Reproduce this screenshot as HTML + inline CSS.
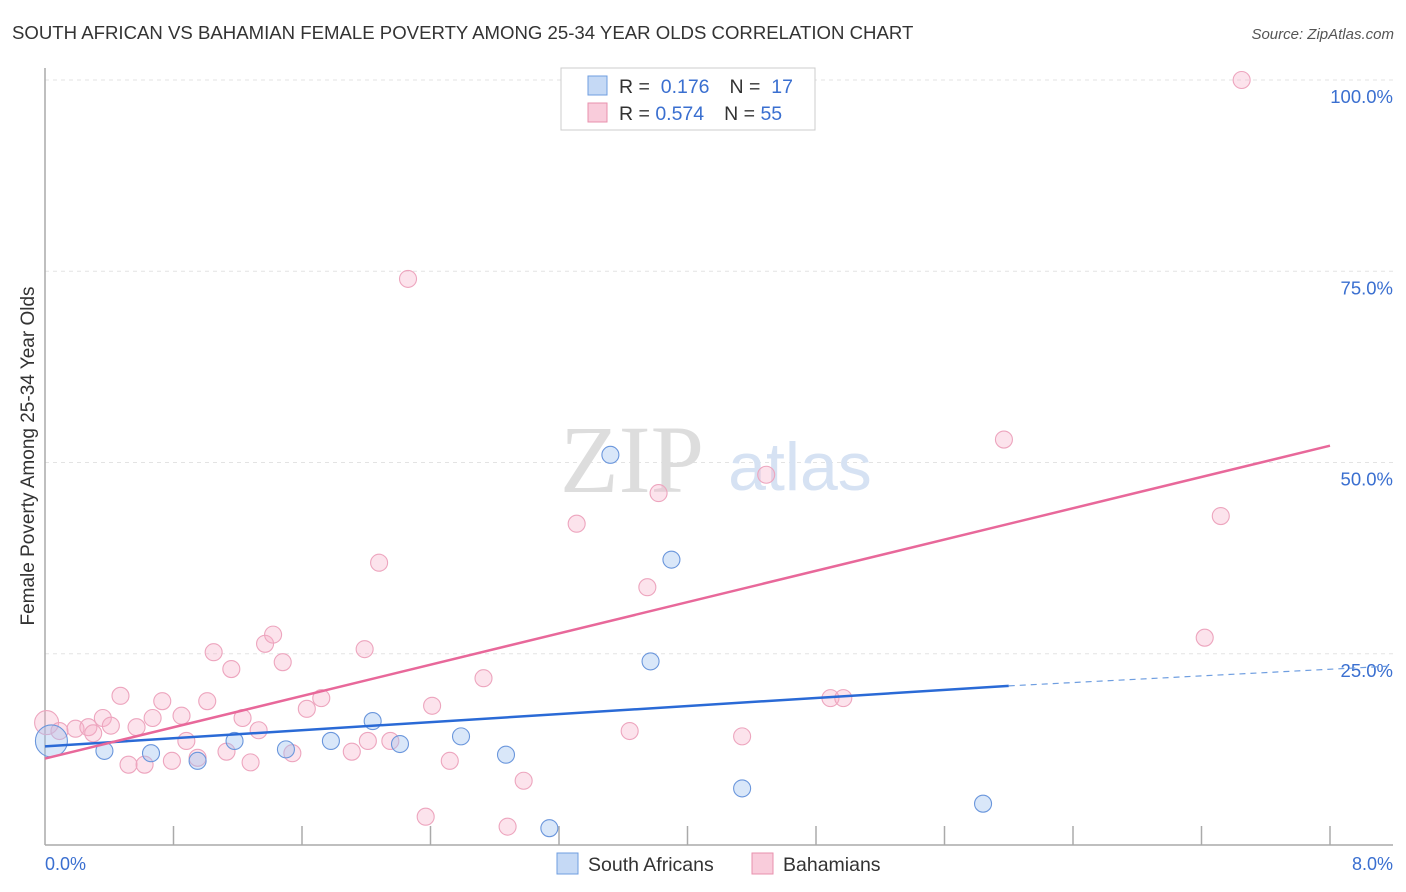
<!DOCTYPE html>
<html><head><meta charset="utf-8"><style>
body{margin:0;background:#fff;font-family:"Liberation Sans",sans-serif;}
svg{display:block}
</style></head><body>
<svg width="1406" height="892" xmlns="http://www.w3.org/2000/svg">
<text x="12" y="39" font-size="18.6" fill="#333">SOUTH AFRICAN VS BAHAMIAN FEMALE POVERTY AMONG 25-34 YEAR OLDS CORRELATION CHART</text>
<text x="1394" y="39" font-size="15" fill="#555" font-style="italic" text-anchor="end">Source: ZipAtlas.com</text>
<g id="grid"></g>
<text x="632" y="492" font-size="96" fill="#ddd" font-family="Liberation Serif" text-anchor="middle">ZIP</text>
<text x="800" y="490" font-size="68" fill="#d6e2f3" text-anchor="middle">atlas</text>
<g id="axes"></g>
<g id="points"></g>
<g id="lines"></g>
<text x="34" y="456" font-size="19" fill="#333" text-anchor="middle" transform="rotate(-90 34 456)">Female Poverty Among 25-34 Year Olds</text>
<text x="45" y="870" font-size="18" fill="#3a6fd0">0.0%</text>
<text x="1393" y="870" font-size="18" fill="#3a6fd0" text-anchor="end">8.0%</text>
<g>
<rect x="561" y="68" width="254" height="62" fill="#fff" stroke="#ccc"/>
<rect x="588" y="76" width="19" height="19" fill="#c5d9f5" stroke="#6f9ee0"/>
<rect x="588" y="103" width="19" height="19" fill="#f9ccdb" stroke="#e891ae"/>
<text x="619" y="93" font-size="19.5" fill="#333">R = <tspan fill="#3a6fd0">&#160;0.176</tspan><tspan dx="20">N = </tspan><tspan fill="#3a6fd0">&#160;17</tspan></text>
<text x="619" y="120" font-size="19.5" fill="#333">R = <tspan fill="#3a6fd0">0.574</tspan><tspan dx="20">N = </tspan><tspan fill="#3a6fd0">55</tspan></text>
</g>
<g>
<rect x="557" y="853" width="21" height="21" fill="#c5d9f5" stroke="#6f9ee0"/>
<text x="588" y="871" font-size="19.5" fill="#333">South Africans</text>
<rect x="752" y="853" width="21" height="21" fill="#f9ccdb" stroke="#e891ae"/>
<text x="783" y="871" font-size="19.5" fill="#333">Bahamians</text>
</g>
</svg>
<script>
const yTicks=[25,50,75,100];
const yTickLabels=["25.0%","50.0%","75.0%","100.0%"];
const saX=[0.04,0.37,0.66,0.95,1.18,1.5,1.78,2.04,2.21,2.59,2.87,3.14,3.52,3.9,3.77,4.34,5.84];
const saY=[13.6,12.3,12.0,11.0,13.6,12.5,13.6,16.2,13.2,14.2,11.8,2.2,51.0,37.3,24.0,7.4,5.4];
const bhX=[0.01,0.09,0.19,0.27,0.3,0.36,0.41,0.47,0.52,0.57,0.62,0.67,0.73,0.79,0.85,0.88,0.95,1.01,1.05,1.13,1.16,1.23,1.28,1.33,1.37,1.42,1.48,1.54,1.63,1.72,1.91,1.99,2.01,2.08,2.15,2.26,2.37,2.41,2.52,2.73,2.88,2.98,3.31,3.64,3.75,3.82,4.34,4.49,4.89,4.97,5.97,7.22,7.32,7.45];
const bhY=[16.0,14.9,15.2,15.4,14.6,16.6,15.6,19.5,10.5,15.4,10.5,16.6,18.8,11.0,16.9,13.6,11.4,18.8,25.2,12.2,23.0,16.6,10.8,15.0,26.3,27.5,23.9,12.0,17.8,19.2,12.2,25.6,13.6,36.9,13.6,74.0,3.7,18.2,11.0,21.8,2.4,8.4,42.0,14.9,33.7,46.0,14.2,48.4,19.2,19.2,53.0,27.1,43.0,100.0];
const saTrend=[[0,12.9],[6.0,20.8],[8.39,23.4]];
const bhTrend=[[0,11.3],[8.0,52.2]];
const X=v=>45+v/8*1285, Y=v=>845-v/100*765;
const NS="http://www.w3.org/2000/svg";
function mk(p,t,a){const e=document.createElementNS(NS,t);for(const k in a)e.setAttribute(k,a[k]);document.getElementById(p).appendChild(e);return e;}
yTicks.forEach((t,i)=>{
 const l=mk('grid','line',{x1:45,x2:1393,y1:Y(t),y2:Y(t),stroke:'#e3e3e3','stroke-dasharray':'4,4'});
 
 
 const tx=mk('grid','text',{x:1393,y:Y(t)+23,'font-size':18.5,fill:'#3a6fd0','text-anchor':'end'});
 tx.textContent=yTickLabels[i];
 
 
});
let a=mk('axes','line',{x1:45,x2:45,y1:68,y2:845,stroke:'#aaa','stroke-width':1.5});


a=mk('axes','line',{x1:45,x2:1393,y1:845,y2:845,stroke:'#aaa','stroke-width':1.5});


for(let i=1;i<=10;i++){const t=mk('axes','line',{x1:X(i*0.8),x2:X(i*0.8),y1:826,y2:845,stroke:'#aaa','stroke-width':1.5});
 
 }
bhX.forEach((x,i)=>{const c=mk('points','circle',{cx:X(x),cy:Y(bhY[i]),r:i==0?12:8.5,fill:'rgba(246,176,200,0.35)',stroke:'#eda5be','stroke-width':1.1});
 
 });
saX.forEach((x,i)=>{const c=mk('points','circle',{cx:X(x),cy:Y(saY[i]),r:i==0?16:8.5,fill:'rgba(160,195,240,0.4)',stroke:'#6a96dc','stroke-width':1.1});
 
 });
let l=mk('lines','line',{x1:X(saTrend[0][0]),y1:Y(saTrend[0][1]),x2:X(saTrend[1][0]),y2:Y(saTrend[1][1]),stroke:'#2a6ad6','stroke-width':2.5});


l=mk('lines','line',{x1:X(saTrend[1][0]),y1:Y(saTrend[1][1]),x2:X(saTrend[2][0]),y2:Y(saTrend[2][1]),stroke:'#6f9ee0','stroke-width':1.2,'stroke-dasharray':'6,5'});


l=mk('lines','line',{x1:X(bhTrend[0][0]),y1:Y(bhTrend[0][1]),x2:X(bhTrend[1][0]),y2:Y(bhTrend[1][1]),stroke:'#e8689a','stroke-width':2.5});


</script>
</body></html>
